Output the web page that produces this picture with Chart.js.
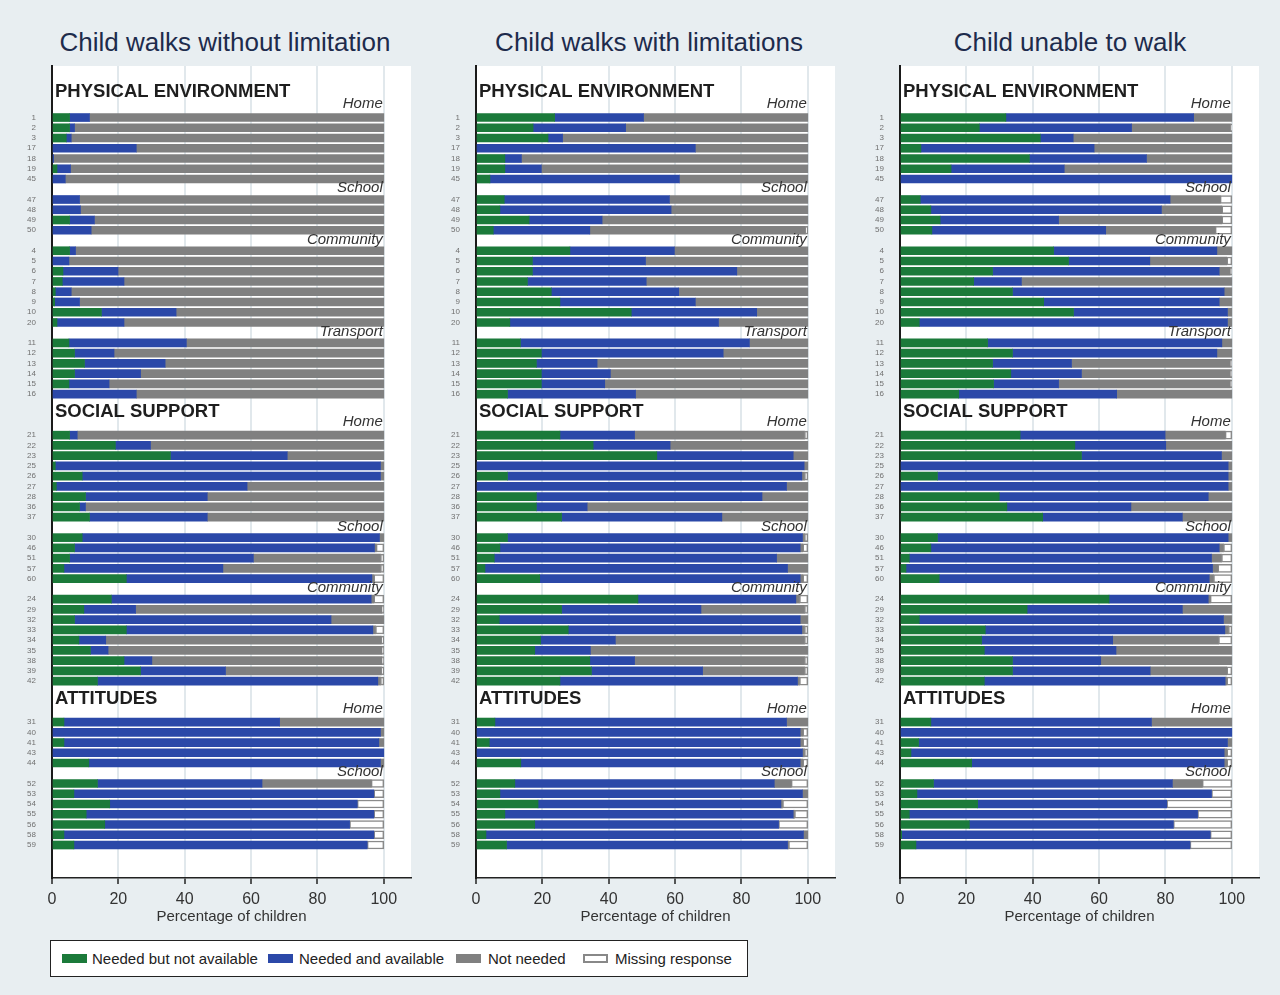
<!DOCTYPE html>
<html><head><meta charset="utf-8">
<script src="https://cdn.jsdelivr.net/npm/chart.js@4.4.0/dist/chart.umd.min.js"></script>
<style>
html,body{margin:0;padding:0}
body{width:1280px;height:995px;background:#e8eef1;position:relative;overflow:hidden;font-family:"Liberation Sans",Arial,sans-serif}
.title{position:absolute;top:25px;height:34px;line-height:34px;font-size:26px;color:#1d2b4c;white-space:nowrap;transform:translateX(-50%)}
canvas{position:absolute;top:0}
#legend{position:absolute;left:50px;top:940px;width:696px;height:35px;background:#fff;border:1px solid #222}
.sw{position:absolute;top:13px;width:25px;height:9px;box-sizing:border-box}
.lt{position:absolute;top:0;line-height:35px;font-size:15px;color:#222;white-space:nowrap}
</style></head>
<body>
<div class="title" id="t0" style="left:225px"></div>
<div class="title" id="t1" style="left:649px"></div>
<div class="title" id="t2" style="left:1070px"></div>
<canvas id="c0" width="420" height="930" style="left:0px"></canvas>
<canvas id="c1" width="420" height="930" style="left:424px"></canvas>
<canvas id="c2" width="420" height="930" style="left:848px"></canvas>
<div id="legend">
  <div class="sw" style="left:11px;background:#1b7a3a"></div><div class="lt" id="l0" style="left:41px"></div>
  <div class="sw" style="left:217px;background:#2b48a8"></div><div class="lt" id="l1" style="left:248px"></div>
  <div class="sw" style="left:405px;background:#808080"></div><div class="lt" id="l2" style="left:437px"></div>
  <div class="sw" style="left:532px;background:#fff;border:2px solid #888"></div><div class="lt" id="l3" style="left:564px"></div>
</div>
<script>
// ---------- categories / structure ----------
const itemLabels = ['1','2','3','17','18','19','45', '47','48','49','50', '4','5','6','7','8','9','10','20', '11','12','13','14','15','16',
  '21','22','23','25','26','27','28','36','37', '30','46','51','57','60', '24','29','32','33','34','35','38','39','42',
  '31','40','41','43','44', '52','53','54','55','56','58','59'];
const groupNames = ['Home','School','Community','Transport','Home','School','Community','Home','School'];
const groupSizes = [7,4,8,6,9,5,9,5,7];
const groupSection = [0,0,0,0,1,1,1,2,2];
const sectionNames = ['PHYSICAL ENVIRONMENT','SOCIAL SUPPORT','ATTITUDES'];
const panelTitles = ['Child walks without limitation','Child walks with limitations','Child unable to walk'];
const seriesNames = ['Needed but not available','Needed and available','Not needed','Missing response'];
const xTicks = [0,20,40,60,80,100];
const xTitle = 'Percentage of children';

// ---------- Panel 1: child walks without limitation ----------
const p1NotAvail = [5.3,5.3,4.3,0,0,1.5,0, 0,0,5.3,0, 5.3,0,3.3,3.1,1.0,0.8,14.9,1.5, 5.1,6.8,9.8,6.8,5.1,0,
  5.3,19.1,35.7,1.0,9.1,1.3,10.1,8.3,11.3, 9.1,6.8,5.3,3.6,22.4, 17.9,9.6,6.8,22.4,8.1,11.6,21.7,26.7,13.7,
  3.6,0,3.6,0,11.1, 13.7,6.6,17.4,10.3,15.9,3.6,6.6];
const p1Avail = [6.0,1.5,1.5,25.4,0.5,4.1,4.0, 8.3,8.6,7.5,11.8, 1.8,5.1,16.6,18.6,4.8,7.5,22.5,20.2, 35.4,11.9,24.3,19.9,12.1,25.4,
  2.3,10.6,35.2,98.0,89.9,57.5,36.7,1.8,35.5, 89.6,90.4,55.4,47.9,74.0, 78.3,15.6,77.3,74.3,8.1,5.3,8.4,25.6,84.5,
  65.0,99.0,94.9,100,87.9, 49.6,90.4,74.6,86.7,73.8,93.4,88.4];
const p1NotNeeded = [88.7,93.2,94.2,74.6,99.5,94.4,96.0, 91.7,91.4,87.2,88.2, 92.9,94.9,80.1,78.3,94.2,91.7,62.6,78.3, 59.5,81.3,65.9,73.3,82.8,74.6,
  92.4,70.3,29.1,1.0,1.0,41.2,53.2,89.9,53.2, 1.3,0.5,38.3,47.5,0.6, 0.8,74.2,15.9,0.8,83.0,82.5,69.3,47.0,0.8,
  31.4,1.0,1.5,0,1.0, 32.9,0,0,0,0,0,0];
const p1Missing = [0,0,0,0,0,0,0, 0,0,0,0, 0,0,0,0,0,0,0,0, 0,0,0,0,0,0,
  0,0,0,0,0,0,0,0,0, 0,2.3,1.0,1.0,3.0, 3.0,0.6,0,2.5,0.8,0.6,0.6,0.7,1.0,
  0,0,0,0,0, 3.8,3.0,8.0,3.0,10.3,3.0,5.0];

// ---------- Panel 2: child walks with limitations ----------
const p2NotAvail = [23.7,17.2,21.7,0,8.7,8.7,4.2, 8.5,7.2,16.0,5.2, 28.3,17.0,17.0,15.5,22.7,25.3,46.8,10.2, 13.4,19.7,18.2,19.7,19.7,9.5,
  25.3,35.3,54.5,0,9.5,0,18.2,18.2,25.8, 9.5,7.2,5.5,2.7,19.2, 48.8,25.8,7.0,27.8,19.5,17.7,34.3,34.8,25.3,
  5.7,0,4.0,0,13.5, 11.7,7.2,18.7,8.7,17.7,3.0,9.2];
const p2Avail = [26.8,27.9,4.4,66.1,5.0,11.0,57.1, 49.8,51.6,22.0,29.1, 31.5,34.1,61.6,35.8,38.4,40.8,37.8,62.9, 69.0,54.8,18.3,20.8,19.1,38.6,
  22.5,23.2,41.1,98.9,88.7,93.6,68.0,15.3,48.3, 88.9,90.5,85.1,91.2,78.5, 47.6,42.0,90.7,70.4,22.5,16.8,13.5,33.5,71.6,
  87.9,97.7,93.7,98.4,84.2, 78.2,91.2,73.2,86.9,73.5,95.7,84.7];
const p2NotNeeded = [49.5,54.9,73.9,33.9,86.3,80.3,38.7, 41.7,41.2,62.0,65.0, 40.2,48.9,21.4,48.7,38.9,33.9,15.4,26.9, 17.6,25.5,63.5,59.5,61.2,51.9,
  51.2,41.5,4.4,1.1,0.8,6.4,13.8,66.5,25.9, 0.6,0.8,9.4,6.1,0.8, 1.1,31.2,2.3,0.8,57.0,65.5,51.2,30.7,0.6,
  6.4,0.8,0.8,0.6,0.8, 5.1,1.6,0.5,0.4,0,1.3,0.3];
const p2Missing = [0,0,0,0,0,0,0, 0,0,0,0.7, 0,0,0,0,0,0,0,0, 0,0,0,0,0,0,
  1.0,0,0,0,1.0,0,0,0,0, 1.0,1.5,0,0,1.5, 2.5,1.0,0,1.0,1.0,0,1.0,1.0,2.5,
  0,1.5,1.5,1.0,1.5, 5.0,0,7.6,4.0,8.8,0,5.8];

// ---------- Panel 3: child unable to walk ----------
const p3NotAvail = [31.9,23.9,42.3,6.3,39.0,15.4,0, 6.1,9.3,12.1,9.6, 46.3,50.8,27.9,22.2,33.9,43.3,52.3,5.8, 26.4,33.9,27.9,33.4,28.2,17.7,
  36.2,52.7,54.7,0,11.3,0,29.9,32.2,43.0, 11.3,9.3,2.8,1.8,11.8, 63.0,38.3,5.8,25.7,24.6,25.4,33.9,33.9,25.4,
  9.3,0,5.6,3.3,21.6, 10.1,5.1,23.4,2.8,20.9,0.5,4.8];
const p3Avail = [56.6,45.9,9.9,52.2,35.3,34.1,100, 75.3,69.5,35.7,52.4, 49.2,24.5,68.3,14.4,63.8,52.9,46.4,92.9, 70.6,61.6,23.8,21.3,19.6,47.6,
  43.7,27.4,42.2,98.9,87.6,98.9,63.0,37.4,42.1, 87.6,86.9,91.1,92.4,81.4, 29.9,46.8,91.7,72.2,39.5,39.7,26.6,41.5,72.6,
  66.5,100,93.1,94.4,76.1, 72.0,88.8,57.0,86.9,61.5,93.0,82.6];
const p3NotNeeded = [11.5,29.8,47.8,41.5,25.7,50.5,0, 15.1,18.2,49.2,33.0, 4.5,23.2,3.3,63.4,2.3,3.8,1.3,1.3, 3.0,4.5,47.8,44.8,51.7,34.7,
  18.1,19.9,3.1,1.1,1.1,1.1,7.1,30.4,14.9, 1.1,1.3,3.0,1.6,1.3, 0.6,14.9,2.5,1.1,31.9,34.9,39.5,23.1,0.5,
  24.2,0,1.3,0.8,0.8, 9.0,0,0,0,0,0,0];
const p3Missing = [0,0.4,0,0,0,0,0, 3.5,3.0,3.0,5.0, 0,1.5,0.5,0,0,0,0,0, 0,0,0.5,0.5,0.5,0,
  2.0,0,0,0,0,0,0,0,0, 0,2.5,3.1,4.2,5.5, 6.5,0,0,1.0,4.0,0,0,1.5,1.5,
  0,0,0,1.5,1.5, 8.9,6.1,19.6,10.3,17.6,6.5,12.6];

const panels = [
  [p1NotAvail, p1Avail, p1NotNeeded, p1Missing],
  [p2NotAvail, p2Avail, p2NotNeeded, p2Missing],
  [p3NotAvail, p3Avail, p3NotNeeded, p3Missing]
];

// ---------- layout of rows (slot positions derived from group structure) ----------
const rowPos = [];
const groupLabelPos = [];
const sectionLabelPos = [];
(function () {
  let p = 0;
  groupSizes.forEach((n, g) => {
    const newSection = g === 0 || groupSection[g] !== groupSection[g - 1];
    if (g > 0) p += newSection ? 3 : 1;
    const first = p;
    if (newSection) sectionLabelPos.push({ text: sectionNames[groupSection[g]], pos: first - (g === 0 ? 2.55 : 2.3) });
    groupLabelPos.push({ text: groupNames[g], pos: first - (newSection ? 1.33 : 1.1) });
    for (let i = 0; i < n; i++) rowPos.push(p++);
  });
})();
const lastPos = rowPos[rowPos.length - 1];
const labelAt = {};
rowPos.forEach((p, i) => { labelAt[p] = itemLabels[i]; });

document.getElementById('t0').textContent = panelTitles[0];
document.getElementById('t1').textContent = panelTitles[1];
document.getElementById('t2').textContent = panelTitles[2];
seriesNames.forEach((s, i) => { document.getElementById('l' + i).textContent = s; });

Chart.defaults.font.family = '"Liberation Sans", Arial, sans-serif';

const COLORS = ['#1b7a3a', '#2b48a8', '#808080', '#ffffff'];

const decorPlugin = {
  id: 'decor',
  beforeDraw(chart) {
    const { ctx, chartArea: a } = chart;
    ctx.save();
    ctx.fillStyle = '#ffffff';
    ctx.fillRect(a.left, a.top, a.right - a.left, a.bottom - a.top);
    ctx.restore();
  },
  afterDatasetsDraw(chart) {
    const { ctx, scales: { x, y } } = chart;
    ctx.save();
    ctx.textBaseline = 'middle';
    ctx.fillStyle = '#1e1e1e';
    ctx.textAlign = 'left';
    ctx.font = 'bold 18.5px "Liberation Sans", Arial, sans-serif';
    sectionLabelPos.forEach(s => ctx.fillText(s.text, x.getPixelForValue(0) + 3, y.getPixelForValue(s.pos)));
    ctx.fillStyle = '#333333';
    ctx.textAlign = 'right';
    ctx.font = 'italic 15px "Liberation Sans", Arial, sans-serif';
    groupLabelPos.forEach(g => ctx.fillText(g.text, x.getPixelForValue(100) - 1, y.getPixelForValue(g.pos)));
    ctx.restore();
  }
};

function makeChart(id, series) {
  const datasets = series.map((vals, k) => ({
    label: seriesNames[k],
    data: vals.map((v, i) => ({ x: v > 0 ? v : null, y: rowPos[i] })),
    backgroundColor: COLORS[k],
    borderColor: k === 3 ? '#8a8a8a' : COLORS[k],
    borderWidth: k === 3 ? 1.5 : 0,
    borderSkipped: false,
    barThickness: 8,
  }));
  return new Chart(document.getElementById(id), {
    type: 'bar',
    data: { datasets },
    plugins: [decorPlugin],
    options: {
      indexAxis: 'y',
      responsive: false,
      animation: false,
      layout: { autoPadding: false, padding: { top: 66, right: 9, bottom: 0, left: 0 } },
      plugins: { legend: { display: false }, tooltip: { enabled: false } },
      scales: {
        x: {
          type: 'linear', stacked: true, min: 0, max: 108.2, offset: false,
          afterBuildTicks: (axis) => { axis.ticks = xTicks.map(v => ({ value: v })); },
          afterFit: (s) => { s.height = 52; },
          grid: {
            color: (c) => (c.tick && c.tick.value === 0) ? 'rgba(0,0,0,0)' : '#e1e8ec',
            lineWidth: 2, drawTicks: true, tickLength: 6, tickColor: '#222', tickWidth: 1.5
          },
          border: { display: true, color: '#222', width: 1.5 },
          ticks: { color: '#333', font: { size: 16 }, padding: 6, maxRotation: 0 },
          title: { display: true, text: xTitle, color: '#333', font: { size: 15 }, padding: { top: 0, bottom: 4 } }
        },
        y: {
          type: 'linear', stacked: true, reverse: true, offset: false,
          min: -5.03, max: lastPos + 3.22,
          afterBuildTicks: (axis) => { axis.ticks = rowPos.map(v => ({ value: v })); },
          afterFit: (s) => { s.width = 52; },
          grid: { display: false, drawTicks: false, offset: false },
          border: { display: true, color: '#1a1a1a', width: 2 },
          ticks: {
            autoSkip: false, color: '#707070', font: { size: 8 }, padding: 16,
            callback: (v) => labelAt[v] !== undefined ? labelAt[v] : ''
          }
        }
      }
    }
  });
}

panels.forEach((series, i) => makeChart('c' + i, series));
</script>
</body></html>
